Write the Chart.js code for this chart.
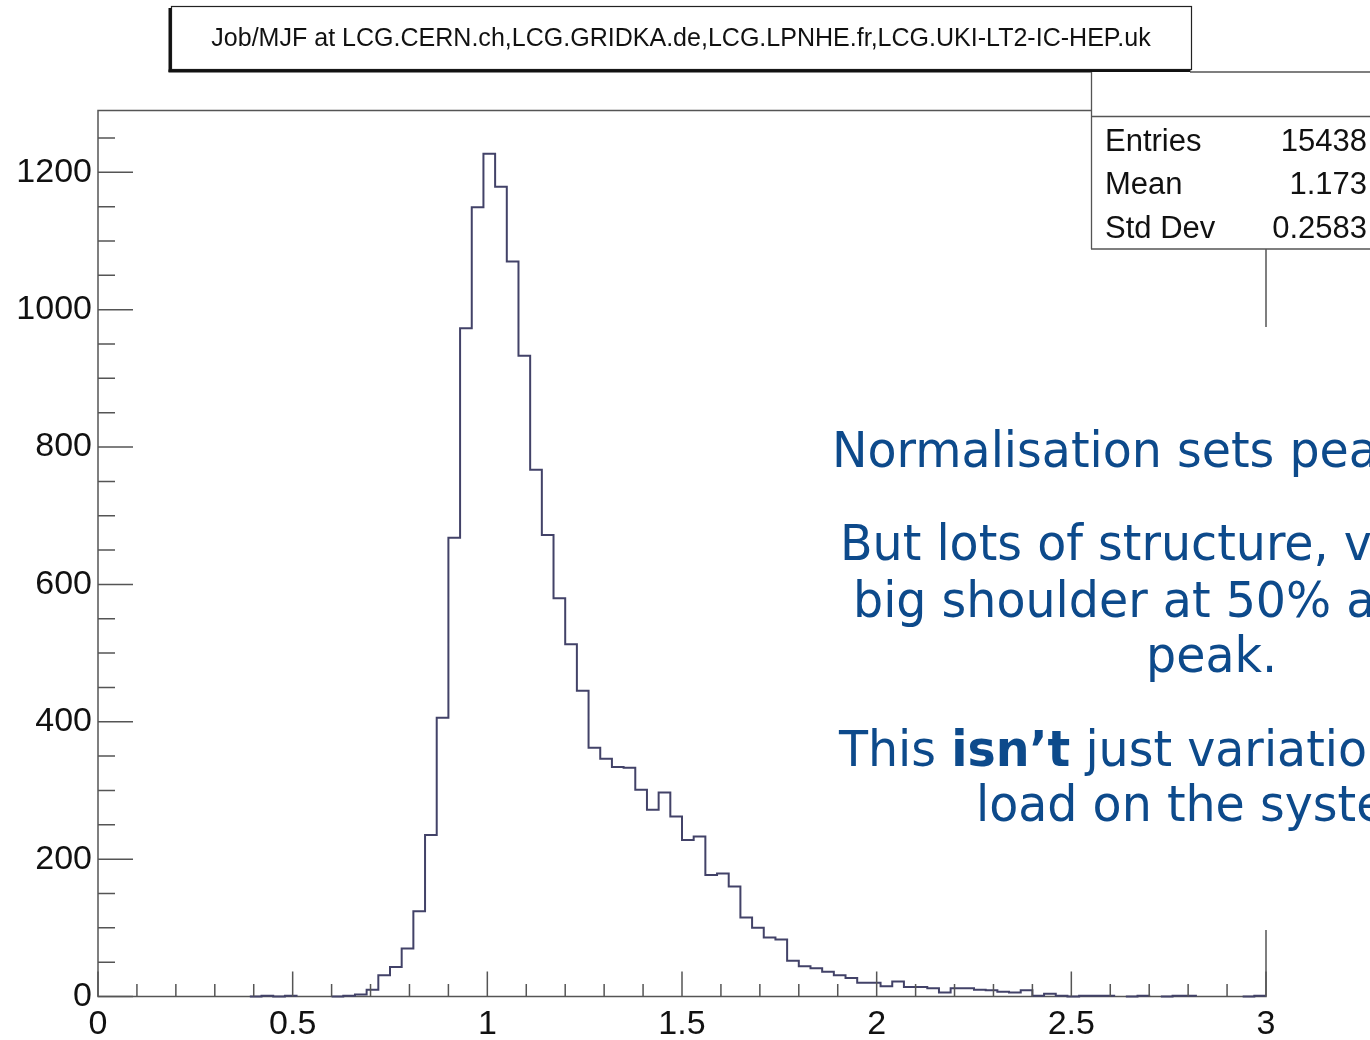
<!DOCTYPE html>
<html><head><meta charset="utf-8">
<script src="https://cdn.jsdelivr.net/npm/chart.js@4.4.0/dist/chart.umd.min.js"></script>
<style>html,body{margin:0;padding:0;background:#fff;overflow:hidden}</style>
</head><body>
<canvas id="c" width="1370" height="1040"></canvas>
<script>
// ---- DATA ----
const binStarts = [0.00,0.03,0.06,0.09,0.12,0.15,0.18,0.21,0.24,0.27,
  0.30,0.33,0.36,0.39,0.42,0.45,0.48,0.51,0.54,0.57,
  0.60,0.63,0.66,0.69,0.72,0.75,0.78,0.81,0.84,0.87,
  0.90,0.93,0.96,0.99,1.02,1.05,1.08,1.11,1.14,1.17,
  1.20,1.23,1.26,1.29,1.32,1.35,1.38,1.41,1.44,1.47,
  1.50,1.53,1.56,1.59,1.62,1.65,1.68,1.71,1.74,1.77,
  1.80,1.83,1.86,1.89,1.92,1.95,1.98,2.01,2.04,2.07,
  2.10,2.13,2.16,2.19,2.22,2.25,2.28,2.31,2.34,2.37,
  2.40,2.43,2.46,2.49,2.52,2.55,2.58,2.61,2.64,2.67,
  2.70,2.73,2.76,2.79,2.82,2.85,2.88,2.91,2.94,2.97];
const binEnd = 3.00;
const counts = [0,0,0,0,0,0,0,0,0,0,
  0,0,0,0,1,0,1,0,0,0,
  0,1,3,10,31,43,70,124,235,406,
  668,973,1149,1227,1179,1070,933,767,672,580,
  513,445,362,346,334,333,301,272,297,262,
  228,233,177,179,160,115,100,86,83,52,
  44,41,36,31,27,20,20,15,22,14,
  14,12,6,12,12,10,9,7,6,9,
  1,4,1,0,1,1,1,0,0,1,
  0,0,1,1,0,0,0,0,0,1];
const xTickValues = [0,0.5,1,1.5,2,2.5,3];
const xTickLabels = ['0','0.5','1','1.5','2','2.5','3'];
const yTickValues = [0,200,400,600,800,1000,1200];
const yTickLabels = ['0','200','400','600','800','1000','1200'];
const titleText = 'Job/MJF at LCG.CERN.ch,LCG.GRIDKA.de,LCG.LPNHE.fr,LCG.UKI-LT2-IC-HEP.uk';
const statsNames = ['Entries','Mean','Std Dev'];
const statsValues = ['15438','1.173','0.2583'];

// ---- chart ----
const pts = binStarts.map((x,i)=>({x:x,y:counts[i]}));
pts.push({x:binEnd,y:counts[counts.length-1]});

const AXIS = '#555';
const HIST = '#424268';
const deco = {
  id:'deco',
  beforeDatasetsDraw(chart){
    const {ctx, chartArea:a} = chart;
    ctx.save();
    ctx.strokeStyle = AXIS; ctx.lineWidth = 1.5;
    ctx.strokeRect(a.left, a.top, a.right-a.left, a.bottom-a.top);
    ctx.restore();
  },
  afterDraw(chart){
    const {ctx, chartArea:a, scales:{x,y}} = chart;
    ctx.save();
    // ticks
    ctx.strokeStyle = AXIS; ctx.lineWidth = 1.5;
    ctx.beginPath();
    for (let k=0;k<=30;k++){
      const v = k/10; const px = x.getPixelForValue(v);
      const len = (k%5===0)?25:12.5;
      ctx.moveTo(px,a.bottom); ctx.lineTo(px,a.bottom-len);
    }
    for (let k=0;k<=25;k++){
      const v = k*50; const py = y.getPixelForValue(v);
      const len = (k%4===0)?35:17;
      ctx.moveTo(a.left,py); ctx.lineTo(a.left+len,py);
    }
    ctx.stroke();

    // title box
    ctx.fillStyle='#fff';
    ctx.fillRect(171,6,1021,64);
    ctx.strokeStyle='#222'; ctx.lineWidth=1.2;
    ctx.strokeRect(171.5,6.5,1020,63);
    ctx.fillStyle='#111';
    ctx.fillRect(168.5,8,3,64);
    ctx.fillRect(168.5,69.5,1022,3);
    let fs = 22;
    ctx.font = fs+'px "Liberation Sans"';
    const w = ctx.measureText(titleText).width;
    fs = fs*940/w;
    ctx.font = fs+'px "Liberation Sans"';
    ctx.textAlign='center'; ctx.textBaseline='middle';
    ctx.fillStyle='#111';
    ctx.fillText(titleText, 681, 39);

    // stats box
    ctx.fillStyle='#fff';
    ctx.fillRect(1091,72,290,177);
    ctx.strokeStyle='#555'; ctx.lineWidth=1.3;
    ctx.beginPath();
    ctx.moveTo(1190,72); ctx.lineTo(1370,72);
    ctx.moveTo(1091.5,72); ctx.lineTo(1091.5,249);
    ctx.moveTo(1091,116.5); ctx.lineTo(1370,116.5);
    ctx.moveTo(1091,249); ctx.lineTo(1370,249);
    ctx.stroke();
    ctx.font='31px "Liberation Sans"';
    ctx.fillStyle='#111'; ctx.textBaseline='alphabetic';
    const rows=[151,194,238];
    statsNames.forEach((n,i)=>{
      ctx.textAlign='left'; ctx.fillText(n,1105,rows[i]);
      ctx.textAlign='right'; ctx.fillText(statsValues[i],1367,rows[i]);
    });

    // slide text overlay
    ctx.fillStyle='#fff';
    ctx.fillRect(815,327,560,603);
    ctx.fillStyle='#0d4a8b';
    ctx.textAlign='left'; ctx.textBaseline='alphabetic';
    const F = '50px "DejaVu Sans"', FB = 'bold 50px "DejaVu Sans"';
    const SX = 0.95;
    const put = (parts, x0, yb) => {
      ctx.save(); ctx.translate(x0, yb); ctx.scale(SX,1);
      let xx = 0;
      parts.forEach(([t,f])=>{ ctx.font=f; ctx.fillText(t,xx,0); xx += ctx.measureText(t).width; });
      ctx.restore();
    };
    put([['Normalisation sets pea',F]],832,467);
    put([['But lots of structure, v',F]],840,560);
    put([['big shoulder at 50% al',F]],853,617);
    put([['peak.',F]],1146,672);
    put([['This ',F],['isn’t',FB],[' just variatio',F]],839,766);
    put([['load on the syste',F]],976,821);
    ctx.restore();
  }
};

new Chart(document.getElementById('c'), {
  type:'line',
  data:{datasets:[{
    data: pts,
    borderColor:HIST,
    borderWidth:2,
    pointRadius:0,
    fill:false,
    stepped:'before',
    tension:0,
    clip:false,
    segment:{borderColor: c => (c.p0.parsed.y===0 && c.p1.parsed.y===0) ? 'rgba(0,0,0,0)' : HIST}
  }]},
  options:{
    responsive:false, animation:false, devicePixelRatio:1,
    layout:{padding:{left:0,right:104,top:110.5,bottom:0}},
    plugins:{legend:{display:false}, tooltip:{enabled:false}},
    scales:{
      x:{type:'linear', min:0, max:3,
        border:{display:false}, grid:{display:false, drawTicks:false},
        afterBuildTicks: s => { s.ticks = xTickValues.map(v=>({value:v})); },
        ticks:{autoSkip:false, maxRotation:0, padding:8, color:'#111',
          font:{family:'Liberation Sans', size:34},
          callback: v => { const i = xTickValues.indexOf(v); return i>=0 ? xTickLabels[i] : ''; }},
        afterFit: s => { s.height = 1040-996.5; }
      },
      y:{type:'linear', min:0, max:1290,
        border:{display:false}, grid:{display:false, drawTicks:false},
        afterBuildTicks: s => { s.ticks = yTickValues.map(v=>({value:v})); },
        ticks:{autoSkip:false, padding:6, color:'#111',
          font:{family:'Liberation Sans', size:34},
          callback: v => { const i = yTickValues.indexOf(v); return i>=0 ? yTickLabels[i] : ''; }},
        afterFit: s => { s.width = 98; }
      }
    }
  },
  plugins:[deco]
});
</script>
</body></html>
